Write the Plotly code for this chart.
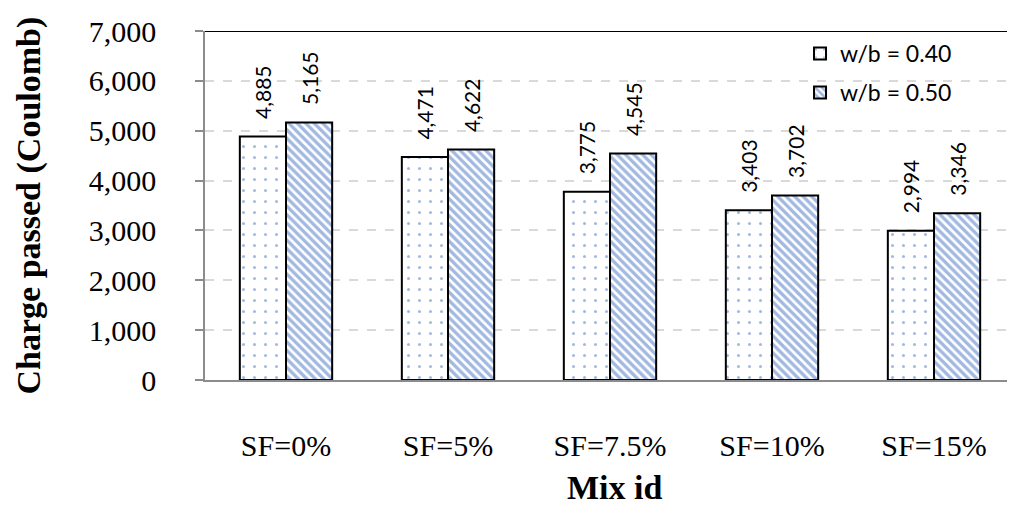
import plotly.graph_objects as go

categories = ["SF=0%", "SF=5%", "SF=7.5%", "SF=10%", "SF=15%"]
series_names = ["w/b = 0.40", "w/b = 0.50"]
wb040 = [4885, 4471, 3775, 3403, 2994]
wb050 = [5165, 4622, 4545, 3702, 3346]
y_ticks = [0, 1000, 2000, 3000, 4000, 5000, 6000, 7000]
y_title = "Charge passed (Coulomb)"
x_title = "Mix id"

BLUE = "#4472C4"
SERIF = "Liberation Serif, Times New Roman, serif"
SANS = "Lato, Carlito, Liberation Sans, sans-serif"

fig = go.Figure()
fig.add_trace(go.Bar(
    x=categories, y=wb040, name=series_names[0], legendgroup="a",
    marker=dict(color="white", line=dict(color="black", width=2),
                pattern=dict(shape=".", fgcolor=BLUE, bgcolor="white",
                             size=11, solidity=0.06, fillmode="overlay")),
))
fig.add_trace(go.Bar(
    x=categories, y=wb050, name=series_names[1], legendgroup="b",
    marker=dict(color="white", line=dict(color="black", width=2),
                pattern=dict(shape="\\", fgcolor=BLUE, bgcolor="white",
                             size=6, solidity=0.55, fillmode="overlay")),
))

annotations = []
for vals, shift in ((wb040, -23.5), (wb050, 23.5)):
    for c, v in zip(categories, vals):
        annotations.append(dict(
            x=c, y=v, xref="x", yref="y", text=f"{v:,}", showarrow=False,
            textangle=-90, xanchor="center", yanchor="bottom",
            xshift=shift, yshift=15,
            font=dict(family=SANS, size=21, color="black"),
        ))

annotations.append(dict(
    x=-0.2185, y=0.5, xref="paper", yref="paper", text=f"<b>{y_title}</b>",
    showarrow=False, textangle=-90, xanchor="center", yanchor="middle",
    font=dict(family=SERIF, size=34, color="black"),
))
annotations.append(dict(
    x=0.505, y=-0.309, xref="paper", yref="paper", text=f"<b>{x_title}</b>",
    showarrow=False, xanchor="center", yanchor="middle",
    font=dict(family=SERIF, size=34, color="black"),
))

# page body has an 8px margin: size/margins compensate so the plot area lands
# at the same pixel positions as the reference in the 1015x508 window
fig.update_layout(
    width=1007, height=500,
    margin=dict(l=197, r=0, t=23, b=128, autoexpand=False),
    paper_bgcolor="white", plot_bgcolor="white",
    barmode="group", bargap=0.43, bargroupgap=0,
    showlegend=True,
    legend=dict(x=0.7346, y=0.997, xanchor="left", yanchor="top",
                bgcolor="rgba(0,0,0,0)", tracegroupgap=6,
                font=dict(family=SANS, size=23, color="black")),
    annotations=annotations,
    shapes=[dict(type="line", xref="paper", x0=0, x1=1, yref="y", y0=7000, y1=7000,
                 line=dict(color="black", width=2))],
)
fig.update_xaxes(
    showline=True, linecolor="#8C8C8C", linewidth=2, ticks="", showgrid=False,
    tickfont=dict(family=SERIF, size=30, color="black"), ticklabelstandoff=38,
)
fig.update_yaxes(
    range=[0, 7000], tickvals=y_ticks, tickformat=",d",
    showline=True, linecolor="#8C8C8C", linewidth=1.5,
    ticks="outside", ticklen=8, tickcolor="#8C8C8C", tickwidth=1.5,
    showgrid=True, gridcolor="#D9D9D9", gridwidth=1.5, griddash="dash",
    zeroline=False,
    tickfont=dict(family=SERIF, size=30, color="black"), ticklabelstandoff=33,
)

fig.write_html("out.html")
